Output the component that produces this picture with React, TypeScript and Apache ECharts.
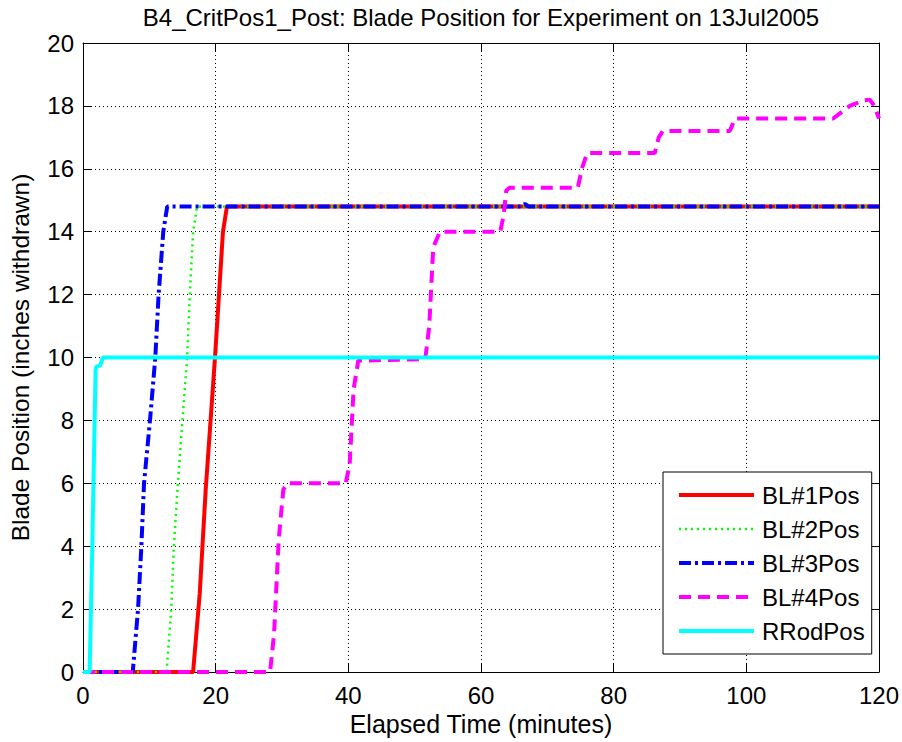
import React, { useEffect, useRef } from "react";
import * as echarts from "echarts";

const titleText = "B4_CritPos1_Post: Blade Position for Experiment on 13Jul2005";
const xName = "Elapsed Time (minutes)";
const yName = "Blade Position (inches withdrawn)";
const seriesNames = ["BL#1Pos", "BL#2Pos", "BL#3Pos", "BL#4Pos", "RRodPos"];

const bl1: number[][] = [
  [0, 0], [16.6, 0], [17.0, 1], [17.6, 2.5], [18.5, 5.8], [19.3, 8.2], [19.9, 10],
  [20.5, 12], [21.1, 14], [21.7, 14.8], [120, 14.8],
];
const bl2: number[][] = [
  [0, 0], [12.6, 0], [13.3, 2], [13.7, 4], [14.3, 6], [15.0, 8], [15.7, 10],
  [16.1, 12], [16.6, 14], [17.2, 14.8], [120, 14.8],
];
const bl3: number[][] = [
  [0, 0], [7.5, 0], [8.3, 2], [8.8, 4], [9.2, 6], [10.1, 8], [10.9, 10],
  [11.4, 12], [12.1, 14], [12.7, 14.8], [66.0, 14.8], [66.6, 14.88], [67.2, 14.8], [120, 14.8],
];
const bl4: number[][] = [
  [0, 0], [28.2, 0], [28.8, 1.2], [29.5, 4.2], [30.2, 5.8], [30.8, 6.0],
  [39.6, 6.0], [40.2, 6.6], [40.8, 9.0], [41.5, 9.9],
  [51.6, 9.95], [52.2, 11.0], [52.8, 13.5], [53.8, 14.0],
  [62.9, 14.0], [63.4, 14.5], [63.8, 15.3], [64.3, 15.4],
  [74.6, 15.4], [75.2, 16.0], [76.0, 16.5],
  [86.2, 16.5], [86.8, 17.0], [87.4, 17.2],
  [97.5, 17.2], [98.3, 17.6],
  [113.1, 17.6], [115.6, 18.0], [117.6, 18.17], [118.6, 18.2], [119.3, 18.0], [120, 17.6],
];
const rrod: number[][] = [
  [0, 0], [1.0, 0], [1.4, 4], [1.9, 9.6], [2.0, 9.7], [2.6, 9.75], [3.0, 10.0], [120, 10.0],
];

const xMin = 0, xMax = 120, xStep = 20;
const yMin = 0, yMax = 20, yStep = 2;

const FONT = "Liberation Sans, Arial, sans-serif";

export default function App() {
  const ref = useRef<HTMLDivElement>(null);
  useEffect(() => {
    if (!ref.current) return;
    const chart = echarts.init(ref.current, undefined, { renderer: "svg" });
    const gridLine = { show: true, lineStyle: { color: "#000", width: 1, type: [1, 3] as any } };
    const axisLine = { show: true, onZero: false, lineStyle: { color: "#000", width: 1 } };
    const tick = { show: true, inside: true, length: 8, lineStyle: { color: "#000", width: 1 } };
    const mk = (name: string, data: number[][], color: string, width: number, type: any) => ({
      name,
      type: "line",
      data,
      xAxisIndex: 0,
      yAxisIndex: 0,
      symbol: "none",
      showSymbol: false,
      lineStyle: { color, width, type, cap: "butt" },
      itemStyle: { color },
      emphasis: { disabled: true },
    });
    chart.setOption({
      animation: false,
      backgroundColor: "#fff",
      textStyle: { fontFamily: FONT },
      graphic: [
        {
          type: "text",
          x: 481,
          y: 5,
          style: { text: titleText, textAlign: "center", fontSize: 24, fill: "#000", fontFamily: FONT },
        },
      ],
      grid: { left: 83, right: 23, top: 43, bottom: 70, containLabel: false },
      xAxis: [
        {
          type: "value", min: xMin, max: xMax, interval: xStep, position: "bottom",
          name: xName, nameLocation: "middle", nameGap: 37,
          nameTextStyle: { fontSize: 25, color: "#000", fontFamily: FONT },
          axisLine, axisTick: tick, splitLine: gridLine,
          axisLabel: { fontSize: 24, color: "#000", margin: 11, fontFamily: FONT },
        },
        {
          type: "value", min: xMin, max: xMax, interval: xStep, position: "top",
          axisLine, axisTick: tick, splitLine: { show: false }, axisLabel: { show: false },
        },
      ],
      yAxis: [
        {
          type: "value", min: yMin, max: yMax, interval: yStep, position: "left",
          name: yName, nameLocation: "middle", nameGap: 50, nameRotate: 90,
          nameTextStyle: { fontSize: 24.5, color: "#000", fontFamily: FONT },
          axisLine, axisTick: tick, splitLine: gridLine,
          axisLabel: { fontSize: 24, color: "#000", margin: 9, fontFamily: FONT },
        },
        {
          type: "value", min: yMin, max: yMax, interval: yStep, position: "right",
          axisLine, axisTick: tick, splitLine: { show: false }, axisLabel: { show: false },
        },
      ],
      legend: {
        show: true,
        orient: "vertical",
        left: 663,
        top: 472,
        data: seriesNames,
        itemWidth: 75,
        itemHeight: 14,
        itemGap: 10,
        padding: [11, 7, 11, 14],
        borderColor: "#000",
        borderWidth: 1,
        backgroundColor: "#fff",
        itemStyle: { color: "rgba(0,0,0,0)", opacity: 0, borderWidth: 0 },
        lineStyle: { width: "inherit" },
        textStyle: { fontSize: 24, color: "#000", fontFamily: FONT, padding: [0, 0, 0, 3] },
        selectedMode: false,
      },
      series: [
        mk(seriesNames[0], bl1, "#ff0000", 4, "solid"),
        mk(seriesNames[1], bl2, "#00ff00", 2.5, [2, 4]),
        mk(seriesNames[2], bl3, "#0000ff", 4, [12, 4, 3, 4]),
        mk(seriesNames[3], bl4, "#ff00ff", 4, [12, 7]),
        mk(seriesNames[4], rrod, "#00ffff", 4, "solid"),
      ],
    });
    return () => chart.dispose();
  }, []);
  return <div ref={ref} style={{ position: "fixed", left: 0, top: 0, width: 902, height: 742 }} />;
}
